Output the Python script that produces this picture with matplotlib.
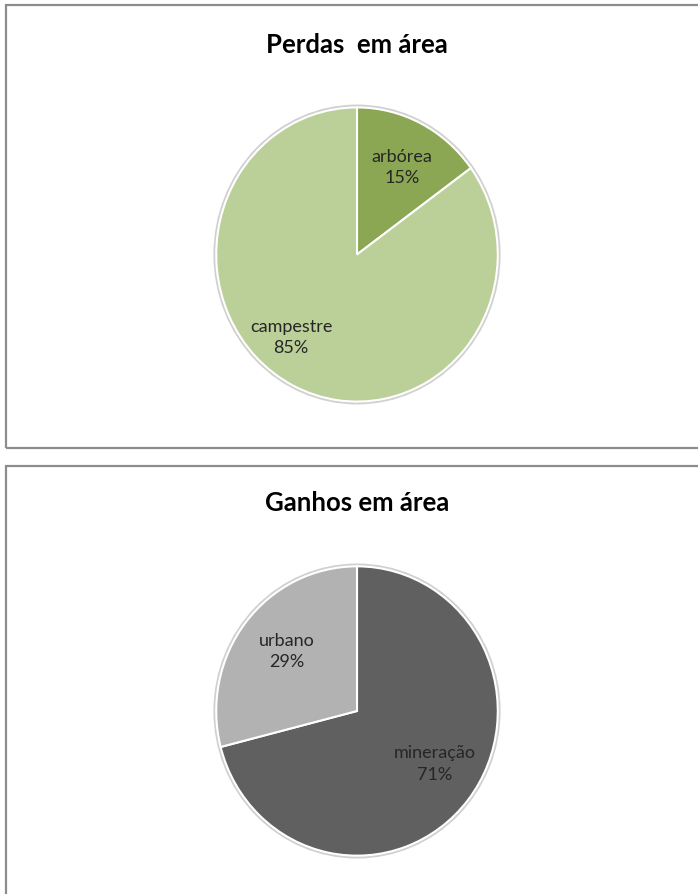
import numpy as np
import matplotlib.pyplot as plt
from matplotlib.patches import Rectangle, Ellipse

plt.rcParams['font.family'] = ['Lato', 'DejaVu Sans']

### data
loss_names = ['arbórea', 'campestre']
loss_vals = [15, 85]
loss_colors = ['#8ba753', '#bbcf98']

gain_names = ['mineração', 'urbano']
gain_vals = [71, 29]
gain_colors = ['#606060', '#b2b2b2']

W, H = 698, 895
fig = plt.figure(figsize=(W/100, H/100), dpi=100)


def px_axes(x0, y0, x1, y1):
    # axes from pixel box (top-left origin)
    return fig.add_axes([x0/W, 1 - y1/H, (x1-x0)/W, (y1-y0)/H])


def draw_panel(y0, y1, title, ty):
    fig.patches.append(Rectangle((5.5/W, 1 - y1/H), 1.0, (y1-y0)/H,
                                 transform=fig.transFigure, fill=False,
                                 edgecolor='#8c8c8c', linewidth=1.6))
    fig.text(357/W, 1 - ty/H, title, ha='center', va='center',
             fontsize=18.5, fontweight='bold', color='black')


def draw_pie(ax, vals, names, colors, lab_ang, lab_r):
    ax.add_patch(Ellipse((0, 0), 2.02, 2.02, facecolor='none',
                         edgecolor='#d0d0d0', linewidth=2.0, zorder=0))
    ax.pie(vals, colors=colors, startangle=90, counterclock=False,
           radius=1, wedgeprops=dict(edgecolor='white', linewidth=1.5))
    ax.set_aspect('auto')
    ax.set_xlim(-1.03, 1.03)
    ax.set_ylim(-1.03, 1.03)
    ax.axis('off')
    for n, v, a, r in zip(names, vals, lab_ang, lab_r):
        t = np.deg2rad(a)
        ax.text(r*np.cos(t), r*np.sin(t), n + '\n' + str(v) + '%',
                ha='center', va='center', fontsize=13, color='#262626',
                linespacing=1.4)


### top panel
draw_panel(6, 449, 'Perdas  em área', 45)
ax1 = px_axes(212, 104, 502, 407)
draw_pie(ax1, loss_vals, loss_names, loss_colors, [62, -130], [0.68, 0.73])

### bottom panel
draw_panel(467, 900, 'Ganhos em área', 503)
ax2 = px_axes(212, 563, 502, 861)
draw_pie(ax2, gain_vals, gain_names, gain_colors, [-33, 140], [0.66, 0.65])

fig.savefig('out.png', dpi=100, facecolor='white')
